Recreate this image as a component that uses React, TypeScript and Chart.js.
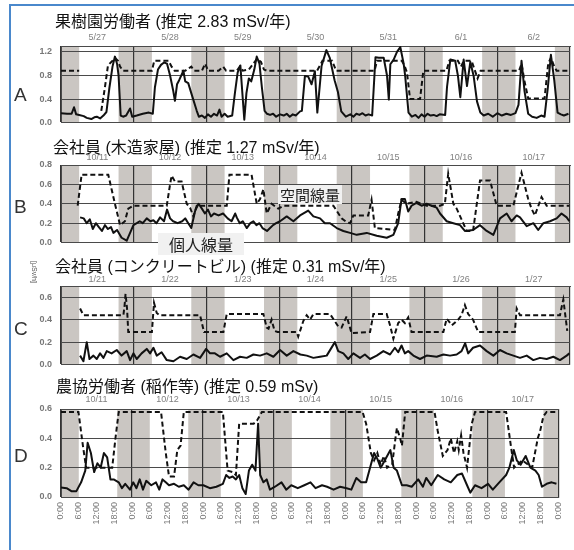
import React, { useEffect, useRef } from 'react';
import { Chart, registerables } from 'chart.js';
Chart.register(...registerables);

type P = [number, number | null];

const datesA = ['5/27', '5/28', '5/29', '5/30', '5/31', '6/1', '6/2'];
const datesB = ['10/11', '10/12', '10/13', '10/14', '10/15', '10/16', '10/17'];
const datesC = ['1/21', '1/22', '1/23', '1/24', '1/25', '1/26', '1/27'];
const datesD = ['10/11', '10/12', '10/13', '10/14', '10/15', '10/16', '10/17'];
const hourLabels = ['0:00', '6:00', '12:00', '18:00'];
const hourTicks = [0, 6, 12, 18, 24, 30, 36, 42, 48, 54, 60, 66, 72, 78, 84, 90, 96, 102, 108, 114, 120, 126, 132, 138, 144, 150, 156, 162, 168];
const nightBands: [number, number][] = [[0, 6], [19, 30], [43, 54], [67, 78], [91, 102], [115, 126], [139, 150], [163, 168]];

const yTicksA = [0, 0.2, 0.4, 0.6, 0.8, 1.0, 1.2];
const yTicksB = [0, 0.2, 0.4, 0.6, 0.8];
const yTicksC = [0, 0.2, 0.4, 0.6];
const yTicksD = [0, 0.2, 0.4, 0.6];

const aPersonal: P[] = [[0,0.16],[2,0.15],[3.5,0.15],[4.3,0.26],[5,0.14],[6,0.13],[7.5,0.11],[8.5,0.08],[10,0.06],[11,0.09],[11.8,0.1],[12.9,0.07],[14,0.12],[15,0.18],[16,0.6],[17,0.95],[17.8,1.12],[18.5,1.0],[19,0.8],[19.7,0.12],[20.5,0.1],[21.5,0.12],[22.8,0.24],[23.5,0.1],[25,0.12],[27,0.15],[29,0.17],[30.3,0.15],[31,0.6],[32,0.9],[33,0.98],[34,1.02],[35,1.0],[36,0.8],[37,0.55],[37.6,0.37],[38.3,0.65],[39,0.72],[40.4,0.88],[41,0.7],[42,0.67],[43,0.5],[44.8,0.2],[45.5,0.1],[46.5,0.12],[47.5,0.08],[48.5,0.14],[49.5,0.1],[50.5,0.15],[51.5,0.12],[52.3,0.22],[53,0.1],[54,0.15],[55,0.1],[56.5,0.12],[57.4,0.5],[58.3,0.85],[59.2,0.97],[60,0.4],[60.5,0.05],[61.2,0.5],[62,0.75],[62.8,0.7],[63.8,0.9],[64.6,1.12],[65.5,1.0],[66.3,0.6],[67.2,0.2],[68,0.15],[69,0.13],[70,0.15],[71,0.1],[72.3,0.14],[73.5,0.12],[74.5,0.15],[75.5,0.1],[76.5,0.14],[77.5,0.12],[78.9,0.19],[79.5,0.2],[80.5,0.79],[81.6,0.78],[82.7,0.65],[83.8,0.87],[84.6,0.17],[86,0.96],[87.6,1.23],[88.7,1.1],[90.3,0.72],[91.4,0.52],[92.5,0.19],[94,0.1],[95.5,0.14],[96.5,0.1],[97.5,0.15],[98.5,0.13],[99.5,0.16],[100.5,0.12],[101.5,0.14],[102.7,0.12],[103.8,1.11],[104.9,1.1],[106.5,1.1],[107.6,0.8],[108.2,0.39],[108.7,0.99],[109.8,1.07],[110.9,1.2],[112,1.28],[113.1,1.0],[113.6,0.79],[114.7,0.17],[115.8,0.1],[117,0.13],[118,0.08],[119,0.14],[120,0.1],[121,0.15],[122,0.12],[123,0.13],[124,0.11],[125,0.14],[126.8,0.13],[127.4,0.6],[128.5,1.07],[130.1,1.05],[131,0.8],[131.8,0.43],[132.9,1.07],[134,0.62],[135.1,1.03],[136.2,0.79],[137.3,0.36],[138.4,0.17],[139.5,0.12],[141,0.15],[142.5,0.1],[144,0.16],[145.5,0.12],[147,0.15],[148.5,0.13],[150,0.16],[151,0.3],[152,1.05],[153,0.53],[154.2,0.15],[155.5,0.1],[157,0.08],[158.5,0.12],[159.6,0.1],[160.7,0.6],[161.7,1.15],[162.8,0.72],[163.9,0.17],[165,0.14],[166,0.12],[167.5,0.15]];

const aSpatial: P[] = [[0,0.88],[6,0.88],[9,null],[13.3,0.2],[14.5,0.6],[15.5,0.97],[17,1.05],[17.8,1.1],[18.8,1.05],[19.5,0.95],[20.5,0.88],[30,0.88],[30.8,1.05],[35.5,1.05],[36.5,0.95],[37.5,0.88],[41,0.88],[43,0.95],[44,0.88],[46.5,0.88],[47.6,1.0],[48.5,0.88],[52,0.88],[53.5,0.95],[54.5,0.88],[58,0.88],[59,0.95],[60,0.88],[62,0.9],[63.5,1.0],[64.6,1.08],[66,1.03],[67,0.9],[68,0.88],[84.5,0.88],[85.5,0.97],[86.3,1.05],[89.5,1.05],[90.8,0.88],[103.5,0.88],[104.3,1.05],[112.5,1.05],[113.5,0.95],[114.2,0.85],[115.2,0.4],[118.5,0.4],[119.6,0.88],[127.2,0.88],[128.2,1.05],[131,1.05],[132,0.95],[133,1.05],[135.5,1.05],[136.5,0.9],[137.5,0.75],[138.5,0.88],[151.2,0.88],[152,1.0],[153,0.7],[154.2,0.41],[159.6,0.41],[160.8,1.0],[161.7,1.1],[162.8,0.95],[163.6,0.88],[167.5,0.88]];

const bSpatial: P[] = [[5.5,0.38],[6.8,0.7],[15.6,0.7],[16.7,0.55],[17.8,0.4],[19.5,0.18],[21.1,0.22],[22.2,0.35],[23.9,0.38],[34.9,0.38],[36,0.6],[36.5,0.69],[37.6,0.63],[39.8,0.63],[41.5,0.4],[42.6,0.36],[43.7,0.27],[44.8,0.38],[54.7,0.38],[55.6,0.7],[62.9,0.7],[64.6,0.4],[65.7,0.45],[66.8,0.55],[67.9,0.3],[69.5,0.4],[71.7,0.35],[73.4,0.38],[89.9,0.38],[92.6,0.25],[94.3,0.21],[95.4,0.2],[96.5,0.28],[101.4,0.28],[102.5,0.44],[103.6,0.15],[110.2,0.13],[111.3,0.3],[112.4,0.44],[114.1,0.4],[117.3,0.42],[120.7,0.38],[125.1,0.38],[126.7,0.4],[127.8,0.71],[129.5,0.4],[130.6,0.35],[133.9,0.12],[136,0.12],[138.3,0.64],[141.6,0.64],[143.8,0.38],[149.3,0.38],[152,0.72],[154.2,0.45],[155.3,0.35],[156.4,0.28],[158.6,0.47],[160.3,0.38],[167.8,0.38]];

const bPersonal: P[] = [[6.3,0.26],[7.5,0.25],[8.5,0.2],[9.5,0.24],[10.5,0.14],[11.5,0.2],[12.5,0.16],[13.5,0.12],[14.5,0.18],[15.5,0.14],[16.5,0.16],[17.3,0.1],[18.5,0.13],[20,0.05],[21.7,0.02],[22.8,0.1],[23.9,0.18],[25,0.2],[26,0.22],[27,0.2],[28.3,0.25],[29.5,0.22],[30.5,0.23],[31.5,0.2],[32.7,0.26],[34,0.22],[35,0.34],[36,0.25],[37,0.22],[38.5,0.2],[40,0.22],[41,0.25],[42,0.2],[43,0.15],[44.3,0.33],[45.4,0.4],[46.5,0.35],[47.5,0.3],[48.5,0.34],[49.5,0.27],[50.5,0.3],[52,0.28],[53.5,0.3],[55,0.25],[56.3,0.22],[57.5,0.3],[58,0.26],[59,0.2],[60,0.22],[61.3,0.15],[62.5,0.2],[63.5,0.22],[64.5,0.18],[65.5,0.2],[66.5,0.15],[68,0.12],[69,0.15],[70,0.18],[71,0.2],[72.3,0.22],[74.5,0.27],[76.7,0.22],[78.9,0.28],[81.6,0.33],[83.3,0.27],[85.5,0.25],[87.1,0.2],[88.8,0.2],[91,0.15],[93.2,0.12],[95.4,0.1],[97.6,0.08],[100.9,0.1],[104.2,0.07],[107.5,0.05],[109.7,0.08],[111.3,0.2],[112.4,0.45],[113.5,0.45],[114.6,0.32],[115.7,0.38],[117.3,0.41],[119,0.38],[120.7,0.4],[122.3,0.38],[124,0.36],[125.1,0.3],[127.3,0.22],[129.5,0.2],[131.7,0.18],[133.3,0.12],[136,0.13],[138.3,0.18],[140.5,0.12],[142.7,0.08],[144.9,0.25],[147.1,0.3],[148.7,0.22],[150.4,0.28],[151.5,0.26],[153.7,0.17],[155.9,0.2],[157.5,0.13],[159.2,0.2],[161.4,0.22],[163.6,0.25],[165.2,0.3],[166.9,0.26],[167.8,0.22]];

const cSpatial: P[] = [[6.3,0.5],[7.4,0.44],[20.6,0.44],[21,0.53],[21.3,0.63],[21.8,0.5],[22.2,0.29],[30,0.29],[30.7,0.55],[31.6,0.46],[32.5,0.44],[45.9,0.44],[47.2,0.29],[53.6,0.29],[54.7,0.45],[66.8,0.45],[67.9,0.33],[68.5,0.32],[69.5,0.4],[70.5,0.3],[71.5,0.29],[77.8,0.29],[78.3,0.25],[80,0.39],[81.1,0.44],[82.2,0.4],[83.3,0.45],[88.8,0.45],[91.5,0.34],[92.6,0.33],[94.3,0.43],[95.9,0.28],[102,0.29],[103.1,0.45],[107.5,0.45],[108.6,0.35],[109.7,0.23],[111.3,0.37],[112.4,0.4],[113.5,0.37],[114.6,0.42],[115.7,0.29],[126.2,0.29],[127.3,0.41],[129,0.35],[131.1,0.4],[132.2,0.44],[133.3,0.53],[134.4,0.45],[136,0.4],[137.7,0.29],[149.8,0.29],[150.4,0.5],[151.5,0.44],[164.7,0.44],[165.3,0.52],[165.8,0.58],[166.4,0.45],[167.1,0.3]];

const cPersonal: P[] = [[6.3,0.08],[7.4,0.03],[8.5,0.2],[9.4,0.05],[10.7,0.08],[11.8,0.05],[12.9,0.1],[14,0.06],[15.1,0.12],[16.7,0.1],[18.4,0.13],[20,0.08],[21.7,0.12],[22.8,0.04],[23.9,0.1],[25,0.05],[26.6,0.1],[28.3,0.14],[29.4,0.1],[30.5,0.15],[31.6,0.08],[33.2,0.11],[34.9,0.04],[37.1,0.03],[39.3,0.07],[41.5,0.05],[43.7,0.09],[45.9,0.06],[47.9,0.14],[49.2,0.1],[50.8,0.1],[52.5,0.07],[54.7,0.1],[56.9,0.04],[59.1,0.07],[61.3,0.06],[63.5,0.09],[65.7,0.08],[67.9,0.1],[70.1,0.07],[72.3,0.13],[74.5,0.08],[76.7,0.12],[79,0.09],[81.1,0.08],[83.3,0.06],[85.5,0.07],[87.7,0.08],[90.4,0.2],[91.5,0.12],[93.2,0.1],[94.8,0.05],[96.5,0.1],[98.7,0.06],[100.3,0.09],[102,0.05],[104.2,0.08],[106.4,0.12],[108.6,0.09],[110.2,0.15],[111.3,0.11],[112.4,0.17],[113.5,0.1],[114.6,0.12],[116.3,0.08],[118.5,0.05],[120.7,0.08],[124,0.07],[126.2,0.09],[128.4,0.08],[130.6,0.09],[132.2,0.12],[133.4,0.19],[134.4,0.1],[136,0.15],[138.3,0.17],[140.5,0.12],[142.7,0.08],[144.9,0.13],[147.1,0.1],[149.3,0.08],[151.5,0.06],[153.7,0.08],[155.9,0.04],[158.1,0.06],[160.3,0.05],[162.5,0.07],[164.7,0.04],[166.9,0.08],[167.8,0.1]];

const dSpatial: P[] = [[0,0.58],[5.9,0.58],[7.4,0.35],[8.5,0.2],[17.3,0.2],[18.4,0.4],[19.5,0.58],[33.8,0.58],[35.4,0.3],[36.5,0.14],[38.2,0.14],[39.3,0.32],[40.4,0.35],[41.5,0.58],[54.7,0.58],[56.3,0.18],[58,0.17],[59.1,0.15],[60.2,0.5],[65.1,0.5],[66.2,0.52],[67.9,0.58],[101.9,0.58],[103.1,0.5],[104.7,0.3],[105.8,0.25],[106.9,0.3],[108,0.22],[109.1,0.28],[110.2,0.2],[111.9,0.22],[113,0.4],[113.5,0.47],[114.6,0.4],[115.2,0.35],[116.3,0.58],[126.2,0.58],[127.3,0.45],[129,0.28],[130.6,0.32],[131.7,0.4],[132.8,0.3],[133.9,0.38],[134.4,0.32],[135.2,0.42],[136,0.3],[137.2,0.2],[138.8,0.5],[139.9,0.58],[150.4,0.58],[152,0.35],[153.1,0.2],[155.9,0.25],[159.2,0.2],[161.1,0.4],[161.9,0.45],[163,0.55],[164.1,0.58],[167.8,0.58]];

const dPersonal: P[] = [[0,0.065],[1.9,0.06],[3.5,0.04],[5.2,0.04],[6.8,0.1],[8.2,0.18],[9,0.37],[10.1,0.3],[11.2,0.17],[12.3,0.23],[13.4,0.2],[14.5,0.3],[15.6,0.27],[16.7,0.12],[17.8,0.12],[19.5,0.1],[20.6,0.06],[21.7,0.09],[23.3,0.05],[24.4,0.1],[25.5,0.06],[26.6,0.12],[27.7,0.05],[28.8,0.11],[30.5,0.08],[32.1,0.1],[33.2,0.05],[34.3,0.12],[35.4,0.1],[36.5,0.08],[38.2,0.09],[39.8,0.07],[41.5,0.08],[43.1,0.05],[44.8,0.1],[46.4,0.08],[48.1,0.08],[50.3,0.06],[52.5,0.07],[54.7,0.09],[55.8,0.15],[56.9,0.13],[58,0.14],[59.1,0.12],[60.2,0.15],[61.3,0.06],[62.4,0.02],[63.5,0.18],[64.6,0.22],[65.7,0.18],[66.6,0.5],[67.3,0.15],[68.4,0.1],[69.5,0.12],[70.6,0.05],[72.3,0.07],[74.5,0.1],[76.1,0.05],[77.8,0.08],[80,0.06],[82.2,0.08],[84.3,0.1],[86,0.06],[88.2,0.08],[89.9,0.07],[92.1,0.05],[94.3,0.07],[96.5,0.06],[98.1,0.05],[99.8,0.13],[101.4,0.1],[103.1,0.1],[104.7,0.22],[105.8,0.3],[106.9,0.26],[108,0.2],[108.6,0.22],[110.2,0.28],[111.3,0.32],[112.4,0.2],[113.5,0.18],[115.2,0.08],[116.8,0.08],[118.5,0.07],[120.7,0.12],[122.3,0.07],[123.4,0.13],[125.1,0.08],[127.3,0.15],[129.5,0.12],[131.7,0.1],[133.9,0.15],[135.5,0.16],[137.2,0.08],[138.3,0.03],[139.9,0.08],[142.1,0.06],[144.3,0.09],[145.9,0.05],[148.1,0.1],[150.4,0.15],[151.5,0.2],[153,0.32],[154,0.25],[155.3,0.22],[157,0.28],[158.6,0.2],[160.3,0.18],[161.4,0.15],[162.5,0.07],[164.1,0.09],[165.8,0.1],[167.4,0.09]];

const FONT = "'Liberation Sans', Arial, 'Noto Sans CJK JP', sans-serif";
const BAND = '#cac6c2';
const GRID = '#4a4a4a';

const bandsPlugin = {
  id: 'nightBands',
  beforeDraw(chart: any) {
    const { ctx, chartArea, scales } = chart;
    const x = scales.x;
    ctx.save();
    ctx.fillStyle = BAND;
    for (const [s, e] of nightBands) {
      const x0 = x.getPixelForValue(s);
      const x1 = x.getPixelForValue(e);
      ctx.fillRect(x0, chartArea.top, x1 - x0, chartArea.bottom - chartArea.top);
    }
    ctx.restore();
  },
};

type PanelProps = {
  top: number; plotH: number; bottomH: number; yMax: number; yTicks: number[];
  dates: string[]; datePad: number; showHours: boolean; spatial: P[]; personal: P[];
};

const TOPH = 16;

function Panel(p: PanelProps) {
  const ref = useRef<HTMLCanvasElement>(null);
  const h = TOPH + p.plotH + p.bottomH;
  useEffect(() => {
    if (!ref.current) return;
    const toXY = (arr: P[]) => arr.map(([x, y]) => ({ x, y }));
    const chart = new Chart(ref.current, {
      type: 'line',
      data: {
        datasets: [
          { data: toXY(p.personal) as any, borderColor: '#111', borderWidth: 2, pointRadius: 0, tension: 0, spanGaps: false, xAxisID: 'x', yAxisID: 'y', borderJoinStyle: 'round' },
          { data: toXY(p.spatial) as any, borderColor: '#111', borderWidth: 2, borderDash: [5, 3], pointRadius: 0, tension: 0, spanGaps: false, xAxisID: 'x', yAxisID: 'y' },
        ],
      },
      options: {
        animation: false,
        responsive: false,
        maintainAspectRatio: false,
        layout: { padding: { left: 0, right: 4, top: 0, bottom: 0 } },
        plugins: { legend: { display: false }, tooltip: { enabled: false } },
        scales: {
          x: {
            type: 'linear', min: 0, max: 168, position: 'bottom',
            afterBuildTicks: (s: any) => { s.ticks = hourTicks.map((v) => ({ value: v })); },
            afterFit: (s: any) => { s.height = p.bottomH; },
            grid: { color: (c: any) => (c.tick && c.tick.value % 24 === 0 ? '#333' : 'rgba(0,0,0,0)'), lineWidth: 1.2, drawTicks: false },
            border: { display: true, color: GRID },
            ticks: {
              display: p.showHours, autoSkip: false, minRotation: 90, maxRotation: 90, padding: 5,
              font: { size: 9, family: FONT }, color: '#777',
              callback: (v: any) => hourLabels[(Number(v) % 24) / 6],
            },
          },
          xTop: {
            type: 'linear', min: 0, max: 168, position: 'top',
            afterBuildTicks: (s: any) => { s.ticks = p.dates.map((_, i) => ({ value: 12 + 24 * i })); },
            afterFit: (s: any) => { s.height = TOPH; },
            grid: { display: false, drawTicks: false },
            border: { display: true, color: GRID },
            ticks: {
              autoSkip: false, maxRotation: 0, minRotation: 0, padding: p.datePad,
              font: { size: 9, family: FONT }, color: '#808080',
              callback: (_v: any, i: number) => p.dates[i],
            },
          },
          y: {
            type: 'linear', min: 0, max: p.yMax,
            afterBuildTicks: (s: any) => { s.ticks = p.yTicks.map((v) => ({ value: v })); },
            afterFit: (s: any) => { s.width = 61; },
            grid: { color: GRID, lineWidth: 1, drawTicks: false },
            border: { display: true, color: GRID },
            ticks: {
              padding: 9, font: { size: 9, family: FONT, weight: 'bold' }, color: '#777',
              callback: (v: any) => Number(v).toFixed(1),
            },
          },
        },
      } as any,
      plugins: [bandsPlugin],
    });
    return () => chart.destroy();
  }, []);
  return (
    <canvas ref={ref} width={574} height={h}
      style={{ position: 'absolute', left: 0, top: p.top - TOPH, width: 574, height: h }} />
  );
}

const titleStyle = (top: number, left: number): React.CSSProperties => ({
  position: 'absolute', left, top: top - 11, height: 22, lineHeight: '22px', fontSize: 16,
  fontFamily: "'Liberation Sans', 'Noto Sans CJK JP', sans-serif", color: '#111', whiteSpace: 'nowrap', zIndex: 2,
});
const letterStyle = (cy: number): React.CSSProperties => ({
  position: 'absolute', left: 14, top: cy - 11, lineHeight: '22px', fontSize: 19,
  fontFamily: "'Liberation Sans', Arial, sans-serif", color: '#333', zIndex: 2,
});
const boxStyle = (left: number, top: number, w: number, h: number, fs: number): React.CSSProperties => ({
  position: 'absolute', left, top, width: w, height: h, lineHeight: `${h}px`, textAlign: 'center',
  background: '#f1f1f1', fontSize: fs, fontFamily: "'Noto Sans CJK JP', sans-serif", color: '#222', zIndex: 3,
});

export default function App() {
  return (
    <div style={{ position: 'absolute', left: 0, top: 0, width: 574, height: 550, background: '#fff', overflow: 'hidden' }}>
      <div style={{ position: 'absolute', left: 9, top: 4, width: 600, height: 600, borderTop: '2px solid #4a88cc', borderLeft: '2px solid #4a88cc' }} />
      <Panel top={46} plotH={89} bottomH={2} yMax={1.3} yTicks={yTicksA} dates={datesA} datePad={3} showHours={false} spatial={aSpatial} personal={aPersonal} />
      <Panel top={165} plotH={90} bottomH={2} yMax={0.8} yTicks={yTicksB} dates={datesB} datePad={2} showHours={false} spatial={bSpatial} personal={bPersonal} />
      <Panel top={286} plotH={91} bottomH={2} yMax={0.7} yTicks={yTicksC} dates={datesC} datePad={1} showHours={false} spatial={cSpatial} personal={cPersonal} />
      <Panel top={409} plotH={88} bottomH={40} yMax={0.6} yTicks={yTicksD} dates={datesD} datePad={4} showHours={true} spatial={dSpatial} personal={dPersonal} />
      <div style={titleStyle(22, 55)}>果樹園労働者 (推定 2.83 mSv/年)</div>
      <div style={titleStyle(148, 53)}>会社員 (木造家屋) (推定 1.27 mSv/年)</div>
      <div style={titleStyle(267, 55)}>会社員 (コンクリートビル) (推定 0.31 mSv/年)</div>
      <div style={titleStyle(387, 56)}>農協労働者 (稲作等) (推定 0.59 mSv)</div>
      <div style={letterStyle(95)}>A</div>
      <div style={letterStyle(207)}>B</div>
      <div style={letterStyle(329)}>C</div>
      <div style={letterStyle(456)}>D</div>
      <div style={{ position: 'absolute', left: 34, top: 272, transform: 'translate(-50%,-50%) rotate(90deg)', fontSize: 7, fontFamily: FONT, color: '#555', whiteSpace: 'nowrap', zIndex: 2 }}>[μSv/h]</div>
      <div style={boxStyle(278, 185, 64, 19, 15)}>空間線量</div>
      <div style={boxStyle(158, 233, 86, 22, 16)}>個人線量</div>
    </div>
  );
}
